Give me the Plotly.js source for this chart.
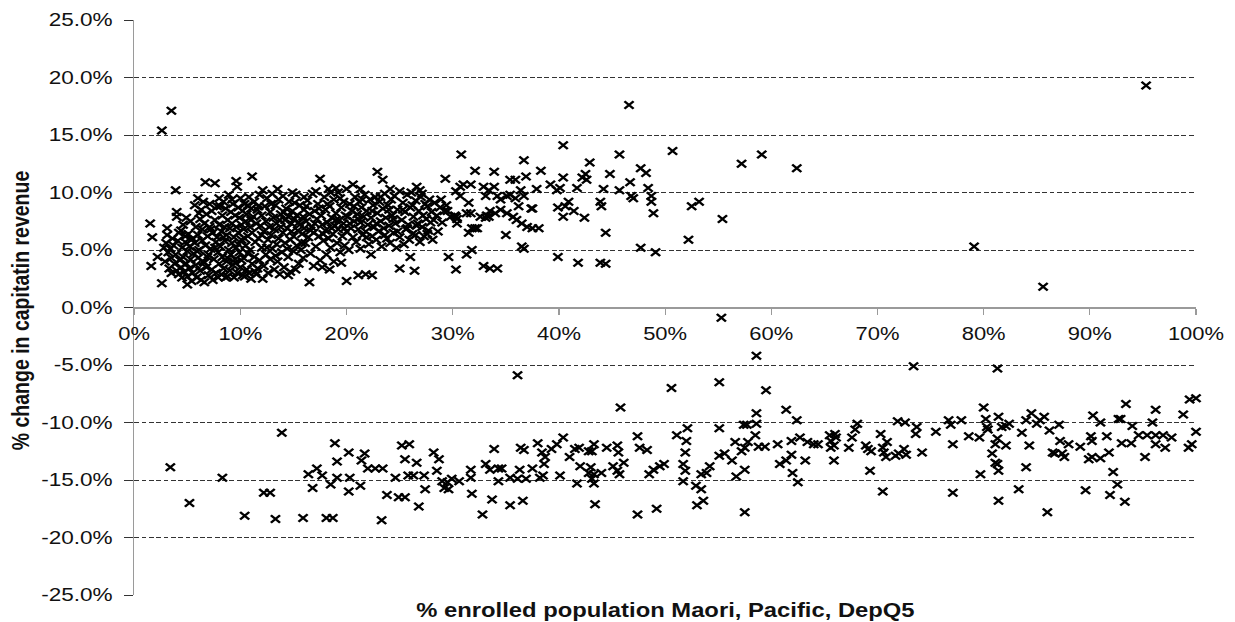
<!DOCTYPE html>
<html>
<head>
<meta charset="utf-8">
<script src="https://cdn.plot.ly/plotly-3.0.1.min.js"></script>
<style>
  html, body { margin: 0; padding: 0; background: #fff; overflow: hidden; }
  /* the reference is stretched sideways, so the chart is drawn narrower and widened */
  #chart { width: 1012px; height: 622px; transform: scaleX(1.2204); transform-origin: 0 0; }
</style>
</head>
<body>
<div id="chart"></div>
<script>
// [share of enrolled population (%), change in capitation revenue (%)]
var gainers = [
  [1.5,7.3],[1.7,6.1],[1.6,3.6],[2.2,4.4],[2.6,2.1],[2.6,15.4],[3.5,17.1],[2.8,5.2],[2.9,4.0],
  [3.0,5.6],[3.1,6.9],[3.1,6.3],[3.2,4.8],[3.3,3.4],[3.4,5.1],[3.5,4.3],[3.5,3.0],[3.6,6.0],[3.7,5.4],
  [3.8,3.8],[3.9,10.2],[3.9,4.6],[4.0,8.3],[4.0,7.9],[4.0,3.2],[4.1,5.8],[4.2,2.9],[4.2,6.5],[4.3,4.1],
  [4.4,6.7],[4.4,3.5],[4.5,5.2],[4.5,2.6],[4.6,7.2],[4.6,4.4],[4.7,3.1],[4.8,5.7],[4.8,6.2],[4.9,7.8],
  [4.9,3.8],[5.0,2.0],[5.0,4.9],[5.0,2.7],
  [5.1,6.4],[5.2,3.4],[5.2,5.3],[5.3,7.5],[5.3,4.2],[5.4,2.3],[5.5,6.0],[5.5,3.0],[5.6,4.7],[5.7,8.9],
  [5.7,5.6],[5.8,3.7],[5.8,7.0],[5.9,2.6],[6.0,9.5],[6.0,4.3],[6.0,6.3],[6.1,5.0],[6.2,3.2],[6.2,7.7],
  [6.3,8.5],[6.3,2.4],[6.4,5.8],[6.4,6.8],[6.5,4.0],[6.5,9.2],[6.6,2.2],[6.6,7.3],[6.7,10.9],[6.7,5.4],
  [6.8,3.5],[6.8,8.1],[6.9,6.2],[7.0,4.6],[7.0,2.8],[7.1,7.0],[7.1,9.0],[7.2,5.1],[7.3,3.3],[7.3,8.4],
  [7.4,2.4],[7.4,6.5],[7.5,4.2],[7.6,10.8],[7.6,7.6],[7.7,5.7],[7.7,3.0],[7.8,8.8],[7.8,6.1],[7.9,4.8],
  [7.9,2.6],[8.0,7.2],[8.0,9.5],[8.0,3.8],
  [8.1,5.3],[8.2,6.6],[8.2,2.9],[8.3,8.0],[8.3,4.4],[8.4,9.2],[8.4,3.4],[8.5,7.0],[8.5,5.8],[8.6,2.6],
  [8.6,8.6],[8.7,4.0],[8.7,6.3],[8.8,2.7],[8.8,7.6],[8.9,5.0],[8.9,9.8],[9.0,3.2],[9.0,6.9],[9.1,8.3],
  [9.1,4.6],[9.2,5.6],[9.2,7.3],[9.3,3.7],[9.3,9.0],[9.4,2.6],[9.4,6.1],[9.5,8.0],[9.5,4.2],[9.6,11.0],
  [9.6,7.0],[9.6,5.2],[9.7,10.5],[9.7,3.0],[9.8,8.7],[9.8,6.5],[9.9,4.8],[9.9,7.8],[10.0,9.5],[10.0,3.5],
  [10.1,5.9],[10.1,7.2],[10.2,8.4],[10.2,2.8],[10.3,4.3],[10.3,6.8],[10.4,2.7],[10.4,9.0],[10.5,5.4],
  [10.5,7.5],[10.6,3.3],[10.6,8.1],[10.7,6.2],[10.7,4.7],[10.8,9.6],[10.8,3.0],[10.9,7.0],[10.9,5.0],
  [11.0,8.6],[11.0,2.5],[11.1,11.4],[11.1,6.5],[11.1,3.8],[11.2,7.9],[11.3,4.4],[11.3,9.2],[11.4,5.7],
  [11.5,2.9],[11.5,7.3],[11.6,8.5],[11.6,3.4],[11.7,6.0],[11.8,4.1],[11.8,9.8],[11.9,7.1],[12.0,5.2],
  [12.0,8.0],[12.1,2.5],
  [12.2,6.6],[12.2,3.6],[12.3,8.8],[12.4,7.5],[12.4,4.6],[12.5,9.5],[12.6,5.9],[12.6,3.0],[12.7,7.0],
  [12.8,8.3],[12.8,4.2],[12.9,6.3],[13.0,9.9],[13.0,5.1],[13.1,7.8],[13.2,3.3],[13.2,6.8],[13.3,8.9],
  [13.4,5.5],[13.4,7.3],[13.5,4.0],[13.6,9.4],[13.6,6.0],[13.7,2.9],[13.8,8.1],[13.8,7.0],[13.9,4.8],
  [14.0,6.5],[14.0,9.7],[14.1,3.5],[14.2,7.6],[14.2,5.6],[14.3,8.6],[14.4,6.9],[14.5,4.4],[14.5,7.9],
  [14.6,9.2],[14.7,5.9],[14.7,3.1],[14.8,7.3],[14.9,8.4],[15.0,6.2],[15.0,4.9],[15.1,7.7],[15.2,9.8],
  [15.3,5.4],[15.3,8.0],[15.4,6.7],[15.5,3.8],[15.6,7.2],[15.6,8.9],[15.7,5.0],[15.8,6.4],[15.9,7.9],
  [15.9,4.3],[16.0,8.5],[16.0,6.9],
  [16.1,5.6],[16.2,7.5],[16.3,9.3],[16.4,6.1],[16.5,2.2],[16.5,8.1],[16.6,4.7],[16.7,7.0],[16.8,9.9],
  [16.9,3.6],[16.9,6.5],[17.0,8.4],[17.1,5.3],[17.2,7.7],[17.3,9.0],[17.4,6.2],[17.5,11.2],[17.5,4.1],
  [17.6,8.0],[17.7,3.5],[17.7,7.2],[17.8,5.8],[17.9,9.6],[18.0,6.7],[18.0,8.5],[18.1,4.6],[18.2,7.4],
  [18.3,10.3],[18.3,6.0],[18.4,8.8],[18.5,5.2],[18.6,7.8],[18.7,6.4],[18.8,9.4],[18.8,4.0],[18.9,7.1],
  [19.0,8.2],[19.1,5.6],[19.2,10.0],[19.2,6.8],[19.3,7.6],[19.4,4.8],[19.5,8.7],[19.6,6.2],[19.7,9.2],
  [19.7,7.3],[19.8,5.4],[19.9,8.0],[20.0,2.3],[20.0,10.3],[20.0,6.6],
  [20.1,7.9],[20.2,5.0],[20.3,9.0],[20.4,6.9],[20.5,8.4],[20.6,10.7],[20.6,6.1],[20.7,7.5],[20.8,9.6],
  [20.9,5.7],[21.0,8.1],[21.1,2.8],[21.1,6.8],[21.2,9.2],[21.3,5.1],[21.3,7.4],[21.4,8.7],[21.5,6.3],
  [21.6,7.9],[21.7,9.8],[21.8,2.9],[21.8,6.6],[21.9,8.4],[22.0,7.2],[22.1,5.5],[22.2,9.4],[22.3,4.6],
  [22.3,7.8],[22.4,2.8],[22.4,6.2],[22.5,8.9],[22.6,7.0],[22.7,9.6],[22.8,5.9],[22.9,11.8],[22.9,8.2],
  [23.0,6.6],[23.1,9.2],[23.2,7.5],[23.3,5.3],[23.4,11.1],[23.4,8.6],[23.5,6.9],[23.6,9.9],[23.7,7.8],
  [23.8,6.0],[23.9,8.9],[24.0,7.1],[24.1,5.6],[24.2,9.4],[24.3,8.0],[24.4,6.5],[24.5,9.7],[24.6,7.3],
  [24.7,5.2],[24.8,8.5],[25.0,3.4],[25.0,6.1],[25.0,10.1],
  [25.2,7.6],[25.3,9.1],[25.4,5.5],[25.5,8.3],[25.6,6.8],[25.7,9.8],[25.8,7.2],[25.9,5.9],[26.0,4.4],
  [26.0,8.7],[26.1,10.0],[26.2,6.4],[26.3,7.9],[26.4,3.2],[26.5,6.3],[26.5,9.3],[26.6,10.5],[26.7,7.3],
  [26.8,8.4],[26.9,5.7],[27.0,9.6],[27.1,7.0],[27.2,8.0],[27.3,6.2],[27.4,9.0],[27.5,7.7],[27.6,8.8],
  [27.7,6.7],[27.8,9.4],[27.9,7.4],[28.0,8.3],[28.1,5.9],[28.3,9.1],[28.5,8.0],[28.6,6.6],[28.8,8.7],
  [29.0,7.4],[29.3,11.2],[29.4,8.9],[29.6,4.4],[29.8,7.9],[29.2,8.4],[29.5,8.4],
  // filling the densest part of the cloud
  [5.4,5.9],[5.9,4.9],[6.1,8.2],[6.6,3.9],[6.9,4.4],[7.2,6.8],[7.6,5.2],[8.1,8.8],[8.4,6.1],[8.8,4.3],
  [9.2,9.4],[9.5,3.9],[9.8,5.5],[10.1,4.1],[10.4,6.0],[10.7,8.9],[11.0,7.6],[11.4,3.1],[11.7,8.8],
  [12.0,6.3],[12.5,5.2],[12.9,9.0],[13.3,4.5],[13.7,7.6],[14.1,8.3],[14.4,5.1],[14.8,6.6],[15.1,9.1],
  [15.5,7.4],[15.8,5.6],[16.2,8.8],[16.6,6.7],[17.0,7.3],[17.4,8.6],[17.8,6.4],[18.2,9.0],[18.6,6.9],
  [19.0,7.6],[19.4,9.5],[19.8,6.9],[20.3,7.3],[20.7,8.8],[21.1,7.7],[21.5,9.4],[21.9,6.1],[22.4,8.4],
  [22.8,7.3],[23.2,9.6],[23.6,6.3],[24.0,8.5],[24.4,7.7],[24.8,6.6],[25.3,8.5],[25.7,6.9],[26.2,8.9],
  [26.6,7.1],[27.1,9.9],[27.6,6.4],[28.2,7.6],[28.9,9.4],[12.1,10.2],[14.9,10.0],[17.1,10.1],[19.0,10.4],
  [21.3,10.3],[24.1,10.3],[26.9,10.2],[13.5,10.3],[16.0,9.6],[18.5,10.0],[14.5,2.8],[15.2,3.3],[18.4,3.3],
  [19.5,3.9],
  [30.3,10.1],[30.7,10.5],[31.0,10.7],[30.7,9.7],[31.7,10.7],[31.5,9.1],[31.3,8.2],[30.3,7.9],[30.4,7.3],
  [30.2,8.0],[30.4,7.7],[31.8,6.9],[32.1,6.9],[32.3,6.9],[32.9,10.5],[33.4,10.2],[33.9,10.5],[33.1,9.7],
  [34.2,9.7],[34.5,9.4],[35.1,9.7],[35.4,9.8],[35.9,9.5],[36.4,10.2],[36.7,9.7],[36.2,8.8],[32.6,7.9],
  [33.1,7.8],[33.4,7.9],[33.2,8.0],[33.5,8.4],[34.0,8.2],[34.5,8.5],[35.1,8.2],[35.7,7.9],[36.0,7.6],
  [36.5,7.3],[37.0,7.0],[37.5,6.9],[38.1,6.9],[31.7,8.2],[31.5,6.5],[37.5,8.6],[37.4,8.6],
  [30.8,13.3],[36.7,12.8],[32.1,11.9],[33.9,11.8],[38.3,11.9],[36.9,11.4],[35.4,11.1],[35.9,11.1],
  [37.9,10.3],[35.0,6.3],[36.5,5.3],[36.7,5.1],[31.8,5.0],[31.3,4.6],[30.3,3.3],[32.9,3.6],[33.5,3.4],
  [34.2,3.4],
  [40.4,14.1],[42.9,12.6],[42.5,11.6],[42.6,11.1],[42.2,11.3],[44.8,11.6],[40.4,11.3],[39.2,10.7],
  [40.1,10.4],[39.8,10.2],[41.7,10.4],[44.2,10.3],[43.9,9.2],[44.0,8.8],[40.9,9.2],[39.9,8.7],[41.4,8.4],
  [40.6,8.8],[40.4,7.9],[42.4,7.8],[44.4,6.5],[39.9,4.4],[41.8,3.9],[43.9,3.9],[44.4,3.8],
  [45.7,13.3],[46.6,17.6],[47.7,12.1],[48.2,11.7],[46.7,10.9],[45.7,10.2],[48.4,10.4],[47.0,9.5],
  [46.8,9.7],[48.7,9.7],[48.7,9.2],[48.9,8.2],[47.7,5.2],[49.1,4.8],
  [50.7,13.6],[52.5,8.8],[53.2,9.2],[55.4,7.7],[52.2,5.9],[59.1,13.3],[57.2,12.5],[62.4,12.1],
  [79.1,5.3],[85.6,1.8],[95.3,19.3]
];

var losers = [
  [3.4,-13.9],[5.2,-17.0],[8.3,-14.8],[10.4,-18.1],[12.2,-16.1],[12.8,-16.1],[13.9,-10.9],[13.3,-18.4],
  [15.9,-18.3],[16.4,-14.5],[16.8,-15.7],[17.2,-14.0],[17.7,-14.6],[18.1,-18.3],[18.7,-18.3],[18.5,-15.4],
  [18.9,-11.8],[19.1,-13.4],[19.1,-14.8],[20.2,-12.6],[20.2,-16.0],[20.3,-14.8],[21.3,-15.5],[21.4,-13.3],
  [21.7,-12.7],[22.0,-14.0],[22.7,-14.0],[23.4,-14.0],[23.3,-18.5],[23.8,-16.3],[24.6,-14.8],[24.9,-16.5],
  [25.5,-16.5],[25.2,-12.0],[25.9,-11.9],[25.5,-13.2],[25.8,-14.6],[26.3,-14.6],[26.6,-13.5],[26.8,-17.3],
  [27.3,-14.6],[27.4,-15.8],[28.2,-12.6],[28.7,-13.2],[28.5,-14.2],[29.0,-15.1],[29.2,-15.7],[29.5,-15.2],
  [29.9,-14.9],[30.6,-15.1],[29.6,-15.8],[31.7,-14.1],[31.7,-14.8],[31.8,-16.2],[32.8,-18.0],[33.1,-13.6],
  [33.5,-14.1],[33.9,-12.3],[33.7,-16.7],[34.3,-14.0],[34.6,-14.0],[34.3,-15.1],[35.4,-14.8],[35.4,-17.2],
  [36.1,-5.9],[36.1,-14.9],[36.4,-12.2],[36.7,-12.4],[36.3,-14.1],[36.9,-14.9],[36.6,-16.8],[37.5,-14.0],
  [38.0,-11.8],[38.4,-12.6],[38.7,-13.0],[38.6,-13.6],[38.5,-14.6],[38.2,-14.8],[39.3,-12.3],[39.8,-11.9],
  [40.4,-11.3],[40.1,-14.6],[41.0,-13.0],[41.5,-12.3],[41.9,-12.2],[42.0,-13.8],[41.7,-15.3],[42.8,-12.5],
  [43.3,-11.9],[43.1,-12.5],[43.0,-13.9],[42.8,-14.4],[43.3,-14.5],[43.1,-14.9],[43.3,-15.3],[43.4,-17.1],
  [44.0,-14.4],[44.5,-12.2],[45.5,-12.0],[45.6,-12.6],[45.1,-13.8],[45.5,-14.2],[45.7,-14.5],[46.1,-13.5],
  [45.8,-8.7],[47.4,-11.2],[47.6,-12.2],[48.3,-12.4],[47.4,-18.0],[48.5,-14.5],[48.9,-14.1],[49.5,-13.8],
  [49.9,-13.6],[49.2,-17.5],[50.6,-7.0],[51.1,-11.1],[52.1,-10.5],[52.0,-11.6],[51.9,-12.6],[51.7,-13.6],
  [51.9,-14.2],[51.7,-15.1],[52.9,-15.5],[53.4,-14.5],[53.4,-15.8],[53.0,-17.2],[53.6,-16.8],[53.9,-14.4],
  [54.2,-13.8],[55.1,-6.5],[55.3,-0.9],[55.1,-10.5],[55.1,-12.9],[55.6,-12.7],[56.6,-11.7],[56.3,-13.3],
  [56.7,-14.7],[57.4,-10.2],[57.7,-10.2],[57.2,-12.5],[57.5,-12.2],[57.8,-11.7],[57.5,-14.1],[57.5,-17.8],
  [58.6,-4.2],[58.6,-9.2],[58.6,-10.1],[58.5,-11.1],[58.8,-12.1],[59.4,-12.1],[59.5,-7.2],[60.6,-11.9],
  [61.4,-8.9],[62.4,-9.8],[61.9,-11.6],[62.7,-11.3],[60.8,-13.6],[61.4,-13.3],[61.9,-12.8],[62.0,-14.4],
  [62.5,-15.2],[63.2,-13.3],[63.4,-11.7],[64.0,-11.9],
  [64.4,-11.9],[65.5,-11.1],[66.0,-11.0],[65.6,-11.6],[66.1,-11.3],[65.6,-12.2],[65.9,-12.0],[65.9,-13.3],
  [67.3,-12.2],[67.6,-11.3],[68.1,-10.1],[67.9,-10.6],[68.9,-12.0],[69.1,-12.3],[69.4,-12.5],[69.3,-14.2],
  [70.3,-11.0],[70.5,-12.2],[70.6,-12.6],[70.8,-13.0],[70.9,-11.7],[70.5,-16.0],[71.7,-12.9],[72.0,-12.7],
  [71.9,-9.9],[72.6,-10.0],[72.5,-12.3],[72.7,-12.8],[73.4,-5.1],[73.7,-10.4],[73.6,-11.0],[74.2,-12.6],
  [75.5,-10.8],[76.7,-9.8],[76.9,-10.2],[77.1,-11.9],[77.1,-16.1],[77.9,-9.8],[78.6,-11.2],[79.6,-11.3],
  [79.7,-14.5],[80.0,-8.7],[80.2,-9.7],[80.3,-10.4],[80.4,-10.6],[80.8,-12.7],[81.1,-13.5],[81.3,-13.6],
  [81.3,-11.4],[81.1,-11.9],[81.4,-9.5],[81.7,-10.4],[81.4,-14.2],[81.3,-5.3],[81.4,-16.8],[82.1,-10.3],
  [82.4,-10.1],[82.1,-12.0],[83.3,-15.8],[83.6,-10.9],[84.0,-9.8],[84.5,-9.2],[84.3,-12.0],[84.0,-13.9],
  [85.0,-10.1],[85.3,-9.8],[85.7,-9.5],[86.0,-17.8],[86.2,-10.7],[86.5,-12.6],[86.7,-12.7],[87.1,-10.2],
  [87.2,-11.6],[87.4,-12.7],[87.6,-13.0],[88.0,-11.9],[89.1,-12.1],[89.6,-15.9],[89.9,-13.2],[90.1,-11.2],
  [90.2,-11.6],[90.3,-9.4],[90.2,-13.0],[91.0,-10.0],[91.0,-13.1],[91.6,-11.2],[91.8,-12.6],[91.9,-16.3],
  [92.2,-14.3],[92.6,-15.4],[93.3,-16.9],[92.7,-9.7],[92.9,-9.7],[93.0,-11.8],[93.4,-8.4],[93.9,-11.8],
  [94.0,-10.3],[94.6,-11.1],[95.2,-13.0],[95.4,-11.1],[96.2,-11.1],[95.9,-10.0],[96.2,-8.9],[96.2,-11.9],
  [97.1,-12.2],[96.9,-11.1],[97.7,-11.3],[98.8,-9.3],[99.3,-12.2],[99.6,-11.9],[99.4,-8.0],[100.0,-7.9],
  [100.0,-10.8]
];

var xTickVals = [0, 10, 20, 30, 40, 50, 60, 70, 80, 90, 100];
var xTickText = ['0%', '10%', '20%', '30%', '40%', '50%', '60%', '70%', '80%', '90%', '100%'];
var yTickVals = [-25, -20, -15, -10, -5, 0, 5, 10, 15, 20, 25];
var yTickText = ['-25.0%', '-20.0%', '-15.0%', '-10.0%', '-5.0%', '0.0%', '5.0%', '10.0%', '15.0%', '20.0%', '25.0%'];

var xTitle = '% enrolled population Maori, Pacific, DepQ5';
var yTitle = '% change in capitatin revenue';

var FONT = 'Arial, "Liberation Sans", sans-serif';

function column(pairs, i) {
  return pairs.map(function (p) { return p[i]; });
}

function toScatter(pairs) {
  return {
    x: column(pairs, 0),
    y: column(pairs, 1),
    type: 'scatter',
    mode: 'markers',
    cliponaxis: false,
    hoverinfo: 'x+y',
    marker: {
      symbol: 'x-thin-open',
      size: 7.5,
      color: '#000',
      line: { color: '#000', width: 2.1 }
    }
  };
}

function getLayout() {
  return {
    width: 1012,
    height: 622,
    margin: { l: 110, r: 32, t: 20, b: 27 },
    paper_bgcolor: '#fff',
    plot_bgcolor: '#fff',
    showlegend: false,
    font: { family: FONT, size: 18, color: '#111' },
    xaxis: {
      range: [0, 100],
      anchor: 'free',
      position: 0.5,
      automargin: false,
      showline: true,
      linecolor: '#9a9a9a',
      linewidth: 1,
      ticks: 'outside',
      ticklen: 6,
      tickcolor: '#9a9a9a',
      tickvals: xTickVals,
      ticktext: xTickText,
      ticklabelstandoff: 4,
      showgrid: false,
      zeroline: false
    },
    yaxis: {
      range: [-25, 25],
      automargin: false,
      showline: true,
      linecolor: '#9a9a9a',
      linewidth: 1,
      ticks: 'outside',
      ticklen: 7,
      tickcolor: '#333',
      tickvals: yTickVals,
      ticktext: yTickText,
      tickfont: { size: 18.5 },
      ticklabelstandoff: 6,
      showgrid: true,
      gridcolor: '#333',
      gridwidth: 1,
      griddash: '4px,2px',
      zeroline: true,
      zerolinecolor: '#9a9a9a',
      zerolinewidth: 1
    },
    annotations: [
      {
        text: '<b>' + xTitle + '</b>',
        xref: 'paper', yref: 'paper',
        x: 0.5, y: -0.026,
        xanchor: 'center', yanchor: 'middle',
        showarrow: false,
        font: { family: FONT, size: 19.5, color: '#111' }
      },
      {
        text: '<b>' + yTitle + '</b>',
        xref: 'paper', yref: 'paper',
        x: -0.107, y: 0.495,
        xanchor: 'center', yanchor: 'middle',
        textangle: -90,
        showarrow: false,
        font: { family: FONT, size: 19.5, color: '#111' }
      }
    ]
  };
}

Plotly.newPlot('chart', [toScatter(gainers), toScatter(losers)], getLayout(), { displayModeBar: false, staticPlot: true });
</script>
</body>
</html>
